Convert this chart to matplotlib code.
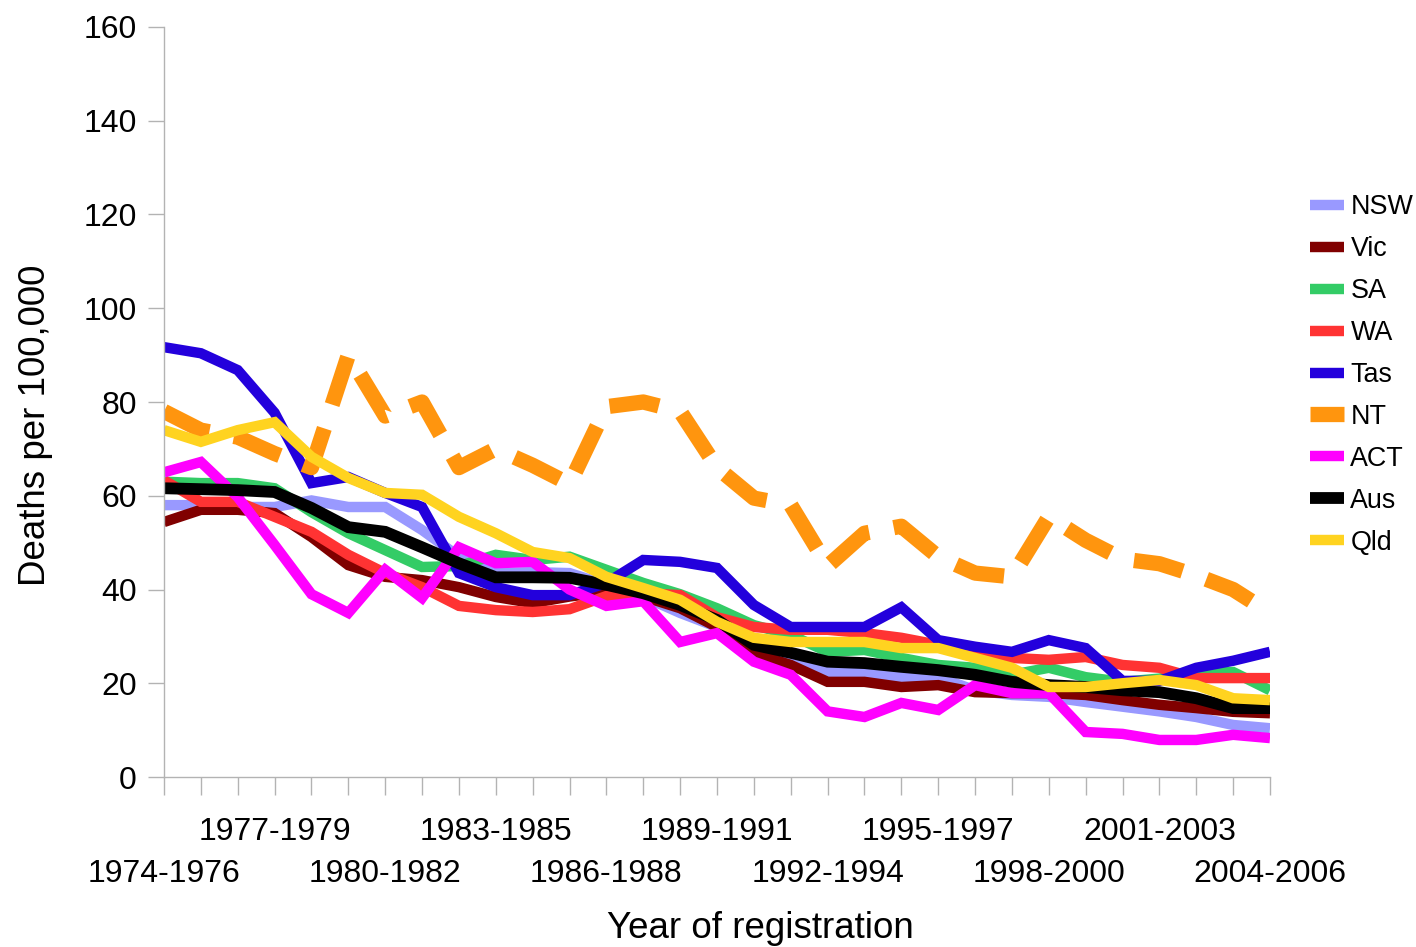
import matplotlib
matplotlib.use("Agg")
import matplotlib.pyplot as plt

periods = ["1974-1976", "1975-1977", "1976-1978", "1977-1979", "1978-1980", "1979-1981",
           "1980-1982", "1981-1983", "1982-1984", "1983-1985", "1984-1986", "1985-1987",
           "1986-1988", "1987-1989", "1988-1990", "1989-1991", "1990-1992", "1991-1993",
           "1992-1994", "1993-1995", "1994-1996", "1995-1997", "1996-1998", "1997-1999",
           "1998-2000", "1999-2001", "2000-2002", "2001-2003", "2002-2004", "2003-2005",
           "2004-2006"]

nsw = [58, 58, 57.6, 57.6, 59, 57.6, 57.6, 52.7, 47, 43.5, 43.7, 43.5, 41, 38.5, 35, 32,
       27.7, 25.6, 22.4, 22.2, 21.3, 21.3, 18.5, 17.5, 17.1, 16, 15, 14, 12.8, 11.1, 10.4]
vic = [54.4, 57, 57, 56.3, 51.2, 45.2, 42.7, 42, 40.5, 38.4, 37.1, 38.5, 39.5, 38.5, 36, 32,
       26.4, 23.9, 20.3, 20.3, 19.2, 19.6, 18.1, 17.9, 17.9, 17.5, 16.4, 15.4, 14.7, 13.9, 13.6]
sa = [63, 62.7, 62.7, 61.6, 56.5, 52, 48.4, 44.8, 45, 47.4, 46.3, 47, 44.2, 41.4, 39, 36,
      32.4, 30.3, 26.7, 27.1, 25.4, 23.9, 23.3, 21.8, 23.3, 21.3, 20.3, 21, 22.2, 22.4, 18.5]
wa = [63.3, 58.7, 58.7, 55.5, 52.3, 47.4, 43.5, 40.5, 36.5, 35.6, 35.2, 35.8, 38.6, 39.2, 38.8, 34.1,
      32, 31.4, 31.4, 30.7, 29.7, 28.2, 26.4, 25.4, 25, 25.6, 23.9, 23.3, 21.1, 21.1, 21.1]
tas = [91.7, 90.4, 86.8, 77.7, 62.7, 64, 60.6, 57.6, 43.5, 40.5, 38.8, 38.8, 41.4, 46.3, 45.9, 44.6,
       36.7, 32, 32, 32, 36.2, 29.2, 27.8, 26.7, 29.2, 27.5, 20.5, 20.5, 23.3, 24.8, 26.7]
nt = [78, 74, 72.5, 69, 66, 90, 77, 80, 66, 70, 66.5, 62.5, 79, 80, 78, 66,
      59.5, 58, 45, 52, 53.5, 47, 43.5, 42.7, 55.5, 50.5, 46.5, 45.5, 43, 40, 35]
act = [65, 67.2, 59.7, 49.5, 39, 35, 44.2, 38.2, 49, 45.6, 45.9, 40, 36.5, 37.5, 28.8, 30.7,
       24.6, 21.8, 14, 12.8, 15.8, 14.3, 19.6, 17.9, 17.9, 9.6, 9.2, 7.9, 7.9, 9, 8.3]
aus = [61.6, 61.4, 61.2, 60.8, 57.4, 53.3, 52.3, 49, 45.6, 42.6, 42.6, 42.5, 41, 39.2, 36.7, 33.5,
       28.2, 26.5, 24.6, 24.3, 23.5, 22.8, 21.8, 20.3, 19.6, 19.2, 18.5, 18.1, 16.8, 14.7, 14.7]
qld = [74, 71.5, 74, 75.7, 68.3, 63.8, 60.6, 60.2, 55.5, 52, 48, 46.7, 42.7, 40.3, 37.8, 33.1,
       29.7, 28.8, 28.8, 28.8, 27.5, 27.5, 25.4, 23.3, 19.2, 19.2, 20, 20.7, 19.6, 16.8, 16.4]

series = [("NSW", nsw, "#9999FF"), ("Vic", vic, "#800000"), ("SA", sa, "#33CC66"),
          ("WA", wa, "#FF3333"), ("Tas", tas, "#2300DC"), ("NT", nt, "#FF950E"),
          ("ACT", act, "#FF00FF"), ("Aus", aus, "#000000"), ("Qld", qld, "#FFD320")]

plt.rcParams['font.family'] = ['Liberation Sans', 'DejaVu Sans']

fig = plt.figure(figsize=(14.16, 9.47), dpi=100)
ax = fig.add_axes([164/1416, 1-777/947, (1270-164)/1416, (777-27)/947])

x = list(range(len(periods)))
for name, vals, col in series:
    if name == "NT":
        lw = 11
        ax.plot(x, vals, color=col, lw=lw, label=name, solid_joinstyle='miter',
                dash_capstyle='butt', linestyle=(0, (50*0.72/lw, 25*0.72/lw)))
    else:
        lw = 8.5 if name == "Aus" else 7.5
        ax.plot(x, vals, color=col, lw=lw, label=name, solid_joinstyle='miter',
                solid_capstyle='butt')

ax.set_xlim(0, len(periods) - 1)
ax.set_ylim(0, 160)
ax.set_yticks(range(0, 161, 20))

# upper row of labels on the major ticks, lower row on minor ticks (no marks)
ax.xaxis.remove_overlapping_locs = False
ax.set_xticks(x)
ax.set_xticklabels([p if i % 6 == 3 else "" for i, p in enumerate(periods)])
low = [i for i in x if i % 6 == 0]
ax.set_xticks(low, minor=True)
ax.set_xticklabels([periods[i] for i in low], minor=True)

for s in ["top", "right"]:
    ax.spines[s].set_visible(False)
for s in ["left", "bottom"]:
    ax.spines[s].set_color("#b3b3b3")
    ax.spines[s].set_linewidth(1)

ax.tick_params(axis='y', length=11.5, width=1, color="#b3b3b3", labelsize=23, pad=8)
ax.tick_params(axis='x', which='major', length=13, width=1, color="#b3b3b3",
               labelsize=23, pad=15.8)
ax.tick_params(axis='x', which='minor', length=0, labelsize=23, pad=59)

ax.set_ylabel("Deaths per 100,000", fontsize=26.5, labelpad=22, y=0.469)
ax.set_xlabel("Year of registration", fontsize=26.5, labelpad=16, x=0.539)

leg = ax.legend(loc='center left', bbox_to_anchor=(1310/1416, 1-375/947),
                bbox_transform=fig.transFigure, frameon=False, fontsize=19.4,
                handlelength=1.25, handletextpad=0.25, labelspacing=0.59,
                borderpad=0, borderaxespad=0)

fig.savefig("out.png", dpi=100)
